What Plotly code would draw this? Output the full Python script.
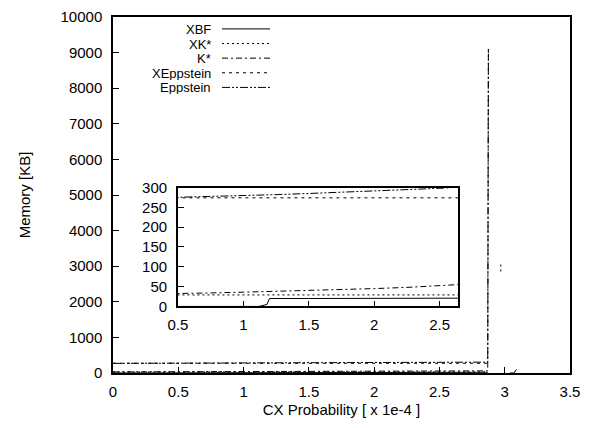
import plotly.graph_objects as go

# ---------------- data ----------------
names = ["XBF", "XK*", "K*", "XEppstein", "Eppstein"]
dashes = ["solid", "2px,3px", "6px,3px,2px,3px", "3px,4px", "8px,2px,2px,2px,2px,2px"]

x_grid = [0, 0.25, 0.5, 0.75, 1.0, 1.25, 1.5, 1.75, 2.0, 2.25, 2.5, 2.75, 2.87]

xbf_x = [0, 0.5, 1.0, 1.12, 1.18, 1.2, 1.5, 2.0, 2.5, 2.87, None, 3.04, 3.07, 3.09]
xbf_y = [0, 0, 0, 0, 5, 20, 20, 20, 21, 21, None, 0, 0, 100]

xks_x = x_grid + [None, 2.97, 2.97]
xks_y = [29, 29, 29, 29, 29, 29, 29, 29, 29, 29, 29, 29, 29, None, 2850, 3080]

ks_x = x_grid + [2.875]
ks_y = [30, 31, 33, 34, 36, 38, 40, 42, 45, 48, 52, 57, 60, 9100]

xepp_x = x_grid
xepp_y = [274, 274, 274, 274, 274, 274, 274, 274, 274, 274, 274, 274, 274]

epp_x = x_grid + [2.875]
epp_y = [271, 273, 276, 278, 280, 282, 285, 288, 291, 294, 298, 303, 305, 9100]

series = [(xbf_x, xbf_y), (xks_x, xks_y), (ks_x, ks_y), (xepp_x, xepp_y), (epp_x, epp_y)]

main_yticks = list(range(0, 10001, 1000))
main_xticks = [0, 0.5, 1, 1.5, 2, 2.5, 3, 3.5]
inset_yticks = [0, 50, 100, 150, 200, 250, 300]
inset_xticks = [0.5, 1, 1.5, 2, 2.5]

FONT = "Liberation Sans, Arial, Helvetica, sans-serif"
FS = 15

fig = go.Figure()
for (xs, ys), nm, ds in zip(series, names, dashes):
    fig.add_trace(go.Scatter(x=xs, y=ys, mode="lines", name=nm,
                             line=dict(color="black", width=1, dash=ds),
                             xaxis="x", yaxis="y", showlegend=False))
for (xs, ys), nm, ds in zip(series, names, dashes):
    fig.add_trace(go.Scatter(x=xs, y=ys, mode="lines", name=nm,
                             line=dict(color="black", width=1, dash=ds),
                             xaxis="x2", yaxis="y2", showlegend=False))

axis_common = dict(showline=True, linecolor="black", linewidth=1.5, mirror=True,
                   ticks="inside", ticklen=6, tickcolor="black", tickwidth=1,
                   showgrid=False, zeroline=False,
                   tickfont=dict(family=FONT, size=FS, color="black"))

fig.update_layout(
    width=607, height=428,
    margin=dict(l=105, r=45, t=0, b=63),
    paper_bgcolor="white", plot_bgcolor="white",
    font=dict(family=FONT, size=FS, color="black"),
    xaxis=dict(range=[0, 3.5], tickvals=main_xticks, ticktext=[str(v) for v in main_xticks],
               title=dict(text="CX Probability [ x 1e-4 ]", standoff=6,
                          font=dict(family=FONT, size=FS)),
               ticklabelstandoff=4, **axis_common),
    yaxis=dict(range=[0, 10000], tickvals=main_yticks, ticktext=[str(v) for v in main_yticks],
               title=dict(text="Memory [KB]", standoff=26,
                          font=dict(family=FONT, size=FS)),
               ticklabelstandoff=6, **axis_common),
    xaxis2=dict(domain=[0.142, 0.755], anchor="y2", range=[0.5, 2.64],
                tickvals=inset_xticks, ticktext=[str(v) for v in inset_xticks],
                ticklabelstandoff=4, **axis_common),
    yaxis2=dict(domain=[0.187, 0.521], anchor="x2", range=[0, 300],
                tickvals=inset_yticks, ticktext=[str(v) for v in inset_yticks],
                ticklabelstandoff=6, **axis_common),
)

# gnuplot-style legend: right-aligned labels with line samples on the right
row_px = [26, 40.75, 55.5, 70.25, 85]
plot_l, plot_r, plot_t, plot_b = 113, 570, 14, 373
for nm, ds, py in zip(names, dashes, row_px):
    yp = (plot_b - py) / (plot_b - plot_t)
    fig.add_annotation(text=nm, xref="paper", yref="paper",
                       x=(212 - plot_l) / (plot_r - plot_l), y=yp,
                       xanchor="right", yanchor="middle", showarrow=False,
                       height=14, borderpad=0,
                       font=dict(family=FONT, size=13, color="black"))
    fig.add_shape(type="line", xref="paper", yref="paper",
                  x0=(222 - plot_l) / (plot_r - plot_l), x1=(270 - plot_l) / (plot_r - plot_l),
                  y0=yp, y1=yp, line=dict(color="black", width=1, dash=ds))

fig.write_html("out.html")
